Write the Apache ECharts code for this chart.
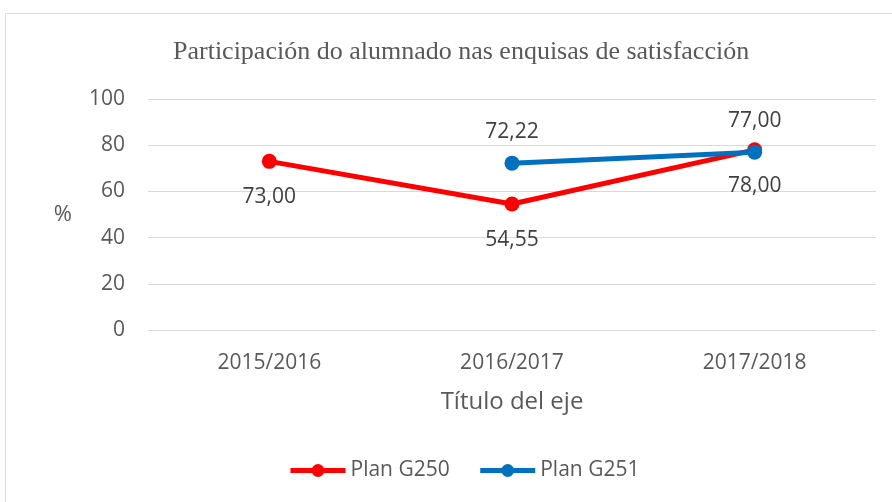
<!DOCTYPE html>
<html>
<head>
<meta charset="utf-8">
<script src="https://cdn.jsdelivr.net/npm/echarts@6/dist/echarts.min.js"></script>
<style>
  html, body { margin: 0; padding: 0; background: #fff; }
  #main { width: 892px; height: 502px; }
</style>
</head>
<body>
<div id="main"></div>
<script>
const categories = ["2015/2016", "2016/2017", "2017/2018"];
const planG250 = [73.00, 54.55, 78.00];
const planG251 = [null, 72.22, 77.00];
const yTicks = [0, 20, 40, 60, 80, 100];

const chart = echarts.init(document.getElementById("main"));
const sans = "'Open Sans', 'Liberation Sans', sans-serif";
const fmt = p => p.value == null ? "" : p.value.toFixed(2).replace(".", ",");

chart.setOption({
  animation: false,
  title: {
    text: "Participación do alumnado nas enquisas de satisfacción",
    left: 168,
    top: 34,
    textStyle: {
      fontFamily: "'Liberation Serif', serif",
      fontWeight: "normal",
      fontSize: 26,
      color: "#595959"
    }
  },
  graphic: [{
    type: "rect",
    shape: { x: 5.5, y: 13.5, width: 900, height: 500 },
    style: { fill: "none", stroke: "#d9d9d9", lineWidth: 1 },
    silent: true
  }],
  legend: {
    top: 455,
    left: 283,
    itemWidth: 55,
    itemHeight: 16,
    itemGap: 28,
    lineStyle: { width: 5 },
    textStyle: { fontFamily: sans, fontSize: 21, color: "#595959" },
    data: ["Plan G250", "Plan G251"]
  },
  grid: { left: 148, right: 16, top: 99, bottom: 172 },
  xAxis: {
    type: "category",
    data: categories,
    name: "Título del eje",
    nameLocation: "middle",
    nameGap: 60,
    nameTextStyle: { fontFamily: sans, fontSize: 24, color: "#595959" },
    axisLine: { lineStyle: { color: "#d9d9d9", width: 1 } },
    axisTick: { show: false },
    axisLabel: { fontFamily: sans, fontSize: 21, color: "#595959", margin: 23 }
  },
  yAxis: {
    type: "value",
    min: yTicks[0],
    max: yTicks[yTicks.length - 1],
    interval: 20,
    name: "%",
    nameLocation: "middle",
    nameRotate: 0,
    nameGap: 76,
    nameTextStyle: { fontFamily: sans, fontSize: 22, color: "#595959", padding: [18, 0, 0, 0] },
    axisLine: { show: false },
    axisTick: { show: false },
    axisLabel: { fontFamily: sans, fontSize: 21, color: "#595959", margin: 23 },
    splitLine: { lineStyle: { color: "#d9d9d9", width: 1 } }
  },
  series: [
    {
      name: "Plan G250",
      type: "line",
      data: planG250,
      symbol: "circle",
      symbolSize: 15,
      lineStyle: { color: "#ff0000", width: 5 },
      itemStyle: { color: "#ff0000" },
      label: {
        show: true,
        position: "bottom",
        distance: 18,
        fontFamily: sans,
        fontSize: 21,
        color: "#404040",
        formatter: fmt
      }
    },
    {
      name: "Plan G251",
      type: "line",
      data: planG251,
      symbol: "circle",
      symbolSize: 15,
      lineStyle: { color: "#0070c0", width: 5 },
      itemStyle: { color: "#0070c0" },
      label: {
        show: true,
        position: "top",
        distance: 13,
        fontFamily: sans,
        fontSize: 21,
        color: "#404040",
        formatter: fmt
      }
    }
  ]
});
</script>
</body>
</html>
